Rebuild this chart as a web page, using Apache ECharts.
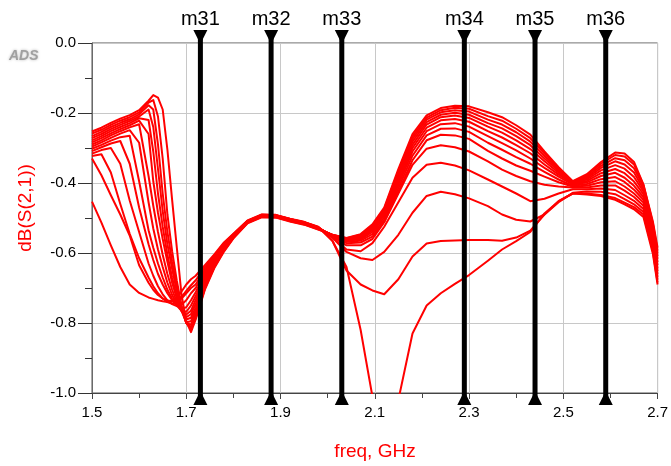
<!DOCTYPE html>
<html>
<head>
<meta charset="utf-8">
<script src="https://cdn.jsdelivr.net/npm/echarts@6/dist/echarts.min.js"></script>
<style>
html,body{margin:0;padding:0;background:#fff;}
#c{width:671px;height:466px;}
</style>
</head>
<body>
<div id="c"></div>
<script>
// Frequency grid (GHz)
const freq = [
  1.50, 1.52, 1.54, 1.56, 1.58, 1.60, 1.62, 1.63, 1.64, 1.65,
  1.66, 1.67, 1.68, 1.69, 1.70, 1.71, 1.72, 1.74, 1.76, 1.78,
  1.80, 1.83, 1.86, 1.89, 1.92, 1.95, 1.98, 2.01, 2.04, 2.07,
  2.095, 2.12, 2.15, 2.18, 2.21, 2.24, 2.27, 2.30, 2.34, 2.37,
  2.40, 2.43, 2.46, 2.49, 2.52, 2.55, 2.58, 2.61, 2.63, 2.65,
  2.67, 2.69, 2.70
];

// dB(S(2,1)) sweep curves (bottom-most family member first)
const c01 = [
  -0.453, -0.513, -0.578, -0.640, -0.690, -0.714, -0.727, -0.731, -0.735, -0.738, -0.740, -0.738, -0.728, -0.710, -0.690, -0.675, -0.665, -0.634, -0.603, -0.570, -0.545,
  -0.507, -0.490, -0.491, -0.502, -0.511, -0.525,
  -0.565, -0.640, -0.820, -1.010, -1.200, -1.020, -0.830, -0.750, -0.715, -0.688, -0.663, -0.622, -0.590, -0.566, -0.540, -0.487, -0.452, -0.430, -0.433, -0.437, -0.448, -0.461, -0.475, -0.497, -0.602, -0.690
];
const c02 = [
  -0.330, -0.378, -0.435, -0.490, -0.550, -0.635, -0.685, -0.705, -0.720, -0.730, -0.736, -0.738, -0.735, -0.725, -0.708, -0.692, -0.678, -0.640, -0.606, -0.572, -0.546,
  -0.508, -0.491, -0.492, -0.503, -0.512, -0.526,
  -0.565, -0.650, -0.690, -0.707, -0.718, -0.675, -0.610, -0.573, -0.566, -0.564, -0.563, -0.563, -0.565, -0.556, -0.536, -0.490, -0.452, -0.430, -0.430, -0.434, -0.443, -0.456, -0.469, -0.490, -0.595, -0.684
];
const c03 = [
  -0.323, -0.318, -0.370, -0.460, -0.545, -0.615, -0.670, -0.695, -0.715, -0.730, -0.740, -0.745, -0.740, -0.730, -0.715, -0.700, -0.690, -0.646, -0.609, -0.574, -0.547,
  -0.508, -0.491, -0.492, -0.503, -0.512, -0.526,
  -0.556, -0.597, -0.615, -0.620, -0.597, -0.548, -0.485, -0.437, -0.425, -0.432, -0.444, -0.466, -0.490, -0.505, -0.510, -0.490, -0.455, -0.428, -0.424, -0.425, -0.432, -0.446, -0.461, -0.483, -0.588, -0.676
];
const c04 = [
  -0.316, -0.306, -0.300, -0.345, -0.450, -0.540, -0.630, -0.665, -0.695, -0.718, -0.735, -0.746, -0.752, -0.748, -0.735, -0.715, -0.700, -0.652, -0.612, -0.576, -0.548,
  -0.509, -0.492, -0.493, -0.504, -0.513, -0.527,
  -0.555, -0.590, -0.595, -0.572, -0.525, -0.455, -0.385, -0.348, -0.342, -0.350, -0.364, -0.390, -0.410, -0.430, -0.452, -0.445, -0.430, -0.418, -0.418, -0.416, -0.420, -0.435, -0.451, -0.474, -0.580, -0.668
];
const c05 = [
  -0.309, -0.298, -0.287, -0.280, -0.345, -0.470, -0.575, -0.620, -0.660, -0.690, -0.715, -0.735, -0.750, -0.760, -0.755, -0.735, -0.712, -0.658, -0.615, -0.578, -0.549,
  -0.509, -0.492, -0.493, -0.504, -0.513, -0.527,
  -0.553, -0.578, -0.578, -0.560, -0.512, -0.430, -0.348, -0.302, -0.292, -0.298, -0.310, -0.338, -0.362, -0.380, -0.395, -0.405, -0.410, -0.413, -0.413, -0.407, -0.407, -0.422, -0.440, -0.465, -0.573, -0.660
];
const c06 = [
  -0.302, -0.291, -0.279, -0.269, -0.265, -0.395, -0.535, -0.585, -0.630, -0.670, -0.705, -0.730, -0.750, -0.765, -0.768, -0.750, -0.723, -0.664, -0.618, -0.580, -0.550,
  -0.510, -0.493, -0.494, -0.505, -0.514, -0.528,
  -0.552, -0.572, -0.570, -0.553, -0.510, -0.425, -0.335, -0.278, -0.262, -0.264, -0.274, -0.308, -0.330, -0.350, -0.365, -0.382, -0.398, -0.410, -0.408, -0.398, -0.395, -0.410, -0.430, -0.456, -0.565, -0.652
];
const c07 = [
  -0.296, -0.284, -0.271, -0.259, -0.249, -0.285, -0.455, -0.530, -0.590, -0.640, -0.685, -0.720, -0.745, -0.765, -0.776, -0.765, -0.734, -0.670, -0.621, -0.582, -0.551,
  -0.510, -0.493, -0.494, -0.505, -0.514, -0.528,
  -0.551, -0.568, -0.565, -0.546, -0.505, -0.415, -0.322, -0.264, -0.245, -0.244, -0.254, -0.285, -0.305, -0.326, -0.345, -0.368, -0.390, -0.408, -0.403, -0.389, -0.383, -0.397, -0.419, -0.448, -0.557, -0.644
];
const c08 = [
  -0.290, -0.278, -0.264, -0.252, -0.241, -0.232, -0.380, -0.465, -0.540, -0.605, -0.660, -0.705, -0.740, -0.765, -0.783, -0.775, -0.745, -0.676, -0.624, -0.584, -0.552,
  -0.511, -0.494, -0.495, -0.506, -0.515, -0.529,
  -0.550, -0.565, -0.561, -0.540, -0.498, -0.405, -0.310, -0.252, -0.232, -0.229, -0.239, -0.266, -0.286, -0.307, -0.330, -0.357, -0.382, -0.405, -0.398, -0.380, -0.371, -0.385, -0.408, -0.440, -0.549, -0.635
];
const c09 = [
  -0.284, -0.272, -0.258, -0.246, -0.235, -0.222, -0.260, -0.395, -0.485, -0.560, -0.625, -0.685, -0.730, -0.765, -0.790, -0.785, -0.756, -0.682, -0.627, -0.586, -0.553,
  -0.511, -0.494, -0.495, -0.506, -0.515, -0.529,
  -0.550, -0.563, -0.558, -0.535, -0.492, -0.396, -0.300, -0.242, -0.221, -0.217, -0.225, -0.252, -0.270, -0.292, -0.315, -0.347, -0.376, -0.402, -0.394, -0.372, -0.360, -0.372, -0.396, -0.432, -0.541, -0.626
];
const c10 = [
  -0.278, -0.266, -0.252, -0.240, -0.229, -0.215, -0.220, -0.310, -0.430, -0.525, -0.605, -0.670, -0.725, -0.765, -0.798, -0.795, -0.765, -0.688, -0.630, -0.588, -0.554,
  -0.512, -0.495, -0.496, -0.507, -0.516, -0.530,
  -0.549, -0.561, -0.555, -0.531, -0.487, -0.387, -0.291, -0.233, -0.212, -0.207, -0.214, -0.239, -0.256, -0.278, -0.303, -0.338, -0.371, -0.400, -0.390, -0.364, -0.349, -0.359, -0.383, -0.424, -0.534, -0.617
];
const c11 = [
  -0.272, -0.260, -0.246, -0.234, -0.223, -0.210, -0.190, -0.240, -0.360, -0.480, -0.575, -0.645, -0.710, -0.760, -0.800, -0.805, -0.773, -0.693, -0.633, -0.590, -0.555,
  -0.512, -0.495, -0.496, -0.507, -0.516, -0.530,
  -0.549, -0.560, -0.552, -0.527, -0.482, -0.379, -0.282, -0.226, -0.205, -0.199, -0.205, -0.229, -0.244, -0.266, -0.292, -0.330, -0.366, -0.398, -0.386, -0.357, -0.338, -0.347, -0.370, -0.417, -0.527, -0.609
];
const c12 = [
  -0.266, -0.254, -0.240, -0.228, -0.218, -0.204, -0.178, -0.190, -0.290, -0.430, -0.540, -0.625, -0.695, -0.755, -0.800, -0.812, -0.780, -0.697, -0.636, -0.592, -0.556,
  -0.513, -0.496, -0.497, -0.508, -0.517, -0.531,
  -0.548, -0.559, -0.550, -0.524, -0.478, -0.372, -0.274, -0.219, -0.198, -0.192, -0.196, -0.219, -0.233, -0.255, -0.282, -0.322, -0.362, -0.397, -0.382, -0.351, -0.329, -0.335, -0.358, -0.410, -0.520, -0.601
];
const c13 = [
  -0.259, -0.248, -0.234, -0.222, -0.212, -0.198, -0.170, -0.163, -0.210, -0.330, -0.490, -0.595, -0.680, -0.750, -0.800, -0.818, -0.786, -0.700, -0.639, -0.594, -0.557,
  -0.514, -0.497, -0.498, -0.509, -0.518, -0.532,
  -0.548, -0.558, -0.548, -0.521, -0.474, -0.366, -0.267, -0.213, -0.192, -0.185, -0.188, -0.209, -0.222, -0.245, -0.272, -0.315, -0.358, -0.396, -0.378, -0.345, -0.320, -0.324, -0.347, -0.405, -0.515, -0.593
];
const c14 = [
  -0.253, -0.242, -0.228, -0.216, -0.206, -0.192, -0.165, -0.149, -0.156, -0.190, -0.305, -0.448, -0.585, -0.720, -0.795, -0.826, -0.790, -0.703, -0.642, -0.596, -0.558,
  -0.515, -0.498, -0.499, -0.510, -0.519, -0.533,
  -0.548, -0.557, -0.546, -0.518, -0.470, -0.360, -0.260, -0.207, -0.186, -0.179, -0.181, -0.198, -0.212, -0.235, -0.262, -0.310, -0.355, -0.395, -0.375, -0.340, -0.313, -0.316, -0.340, -0.405, -0.510, -0.585
];
const curves = [c01, c02, c03, c04, c05, c06, c07, c08, c09, c10, c11, c12, c13, c14];

// Markers
const markerNames = ['m31', 'm32', 'm33', 'm34', 'm35', 'm36'];
const markerFreqs = [1.73, 1.88, 2.03, 2.29, 2.44, 2.59];

// Axis
const xMin = 1.5, xMax = 2.7, xStep = 0.2;
const yMin = -1.0, yMax = 0.0, yStep = 0.2;
const xTitle = 'freq, GHz';
const yTitle = 'dB(S(2,1))';

const FONT = "'Liberation Sans', Arial, sans-serif";
const RED = '#ff0000';

const chart = echarts.init(document.getElementById('c'), null, {renderer: 'canvas', width: 671, height: 466});

const lineSeries = curves.map((arr, k) => ({
  type: 'line',
  name: 'curve' + (k + 1),
  data: freq.map((f, i) => [f, arr[i]]),
  showSymbol: false,
  symbol: 'none',
  smooth: false,
  clip: true,
  lineStyle: {color: RED, width: 2, join: 'round'},
  z: 2,
  silent: true
}));

const markerSeries = {
  type: 'custom',
  data: markerFreqs.map(f => [f, 0]),
  clip: false,
  silent: true,
  z: 10,
  renderItem: function (params, api) {
    const f = api.value(0);
    const top = api.coord([f, yMax]);
    const bot = api.coord([f, yMin]);
    const x = top[0];
    return {
      type: 'group',
      children: [
        {type: 'rect', shape: {x: x - 2.5, y: top[1] - 6, width: 5, height: bot[1] - top[1] + 12}, style: {fill: '#000'}},
        {type: 'polygon', shape: {points: [[x - 7, top[1] - 13], [x + 7, top[1] - 13], [x, top[1] + 1]]}, style: {fill: '#000'}},
        {type: 'polygon', shape: {points: [[x - 7, bot[1] + 12], [x + 7, bot[1] + 12], [x, bot[1] - 2]]}, style: {fill: '#000'}},
        {type: 'text', style: {text: markerNames[params.dataIndex], x: x, y: top[1] - 24, align: 'center', verticalAlign: 'middle', fontSize: 20, fontFamily: FONT, fill: '#000'}}
      ]
    };
  }
};

chart.setOption({
  animation: false,
  backgroundColor: '#fff',
  grid: {left: 92, right: 13, top: 43, bottom: 73, show: true, borderColor: '#555', borderWidth: 1, backgroundColor: 'transparent'},
  xAxis: {
    type: 'value', min: xMin, max: xMax, interval: xStep,
    axisLine: {show: true, onZero: false, lineStyle: {color: '#444', width: 1}},
    axisTick: {show: true, length: 6, lineStyle: {color: '#444'}},
    minorTick: {show: true, splitNumber: 2, length: 5, lineStyle: {color: '#444'}},
    axisLabel: {margin: 12, fontSize: 15, color: '#000', fontFamily: FONT, formatter: v => v.toFixed(1)},
    splitLine: {show: true, lineStyle: {color: '#c8c8c8', width: 1}},
    minorSplitLine: {show: false}
  },
  yAxis: {
    type: 'value', min: yMin, max: yMax, interval: yStep,
    axisLine: {show: true, onZero: false, lineStyle: {color: '#6a6a6a', width: 1}},
    axisTick: {show: true, length: 14, lineStyle: {color: '#333'}},
    minorTick: {show: true, splitNumber: 2, length: 7, lineStyle: {color: '#333'}},
    axisLabel: {margin: 16, fontSize: 15, color: '#000', fontFamily: FONT, formatter: v => v.toFixed(1)},
    splitLine: {show: true, lineStyle: {color: '#c8c8c8', width: 1}},
    minorSplitLine: {show: false}
  },
  graphic: [
    {type: 'text', x: 9, y: 49, silent: true, style: {text: 'ADS', font: "italic bold 14px " + FONT, fill: '#a0a0a0', textShadowColor: '#b8b8b8', textShadowBlur: 3}},
    {type: 'text', x: 26, y: 208, rotation: Math.PI / 2, silent: true, style: {text: yTitle, font: "19px " + FONT, fill: RED, align: 'center', verticalAlign: 'middle'}},
    {type: 'text', x: 375, y: 452, silent: true, style: {text: xTitle, font: "19px " + FONT, fill: RED, align: 'center', verticalAlign: 'middle'}}
  ],
  series: lineSeries.concat([markerSeries])
});
</script>
</body>
</html>
